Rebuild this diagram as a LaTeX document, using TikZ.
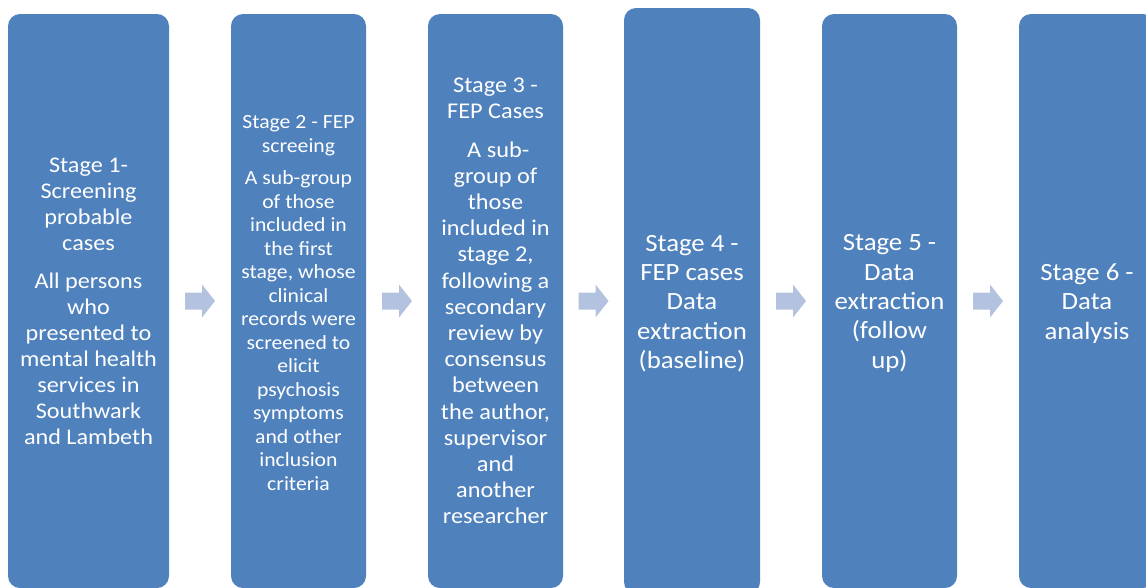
\documentclass[tikz,border=0pt]{standalone}
\usepackage{fontspec}
\setmainfont[FakeStretch=1.08]{Carlito}
\usetikzlibrary{calc}
\definecolor{stageblue}{HTML}{4F81BD}
\definecolor{flowgrey}{HTML}{B3C2DE}

\begin{document}
\begin{tikzpicture}[x=1pt, y=-1pt,
    stagebox/.style={fill=stageblue, rounded corners=12pt, inner sep=0pt,
      text=white, align=center, minimum height=574pt},
    stagetext/.style={text=white, align=center, inner sep=0pt},
    flowarrow/.style={fill=flowgrey}]
  \useasboundingbox (0,0) rectangle (1146,587);
  \clip (0,0) rectangle (1146,587);

  \node[stagebox, minimum width=161pt, font=\fontsize{22.4}{26}\selectfont] (s1) at (88.5,301)
    {Stage 1-\\Screening\\probable\\cases\\[12pt]All persons\\who\\presented to\\mental health\\services in\\Southwark\\and Lambeth};
  \node[stagebox, minimum width=135pt,
    label={[stagetext, yshift=-2pt, font=\fontsize{20.1}{23.5}\selectfont]center:{Stage 2 - FEP\\screeing\\[9pt]A sub-group\\of those\\included in\\the first\\stage, whose\\clinical\\records were\\screened to\\elicit\\psychosis\\symptoms\\and other\\inclusion\\criteria}}]
    (s2) at (298.5,301) {};
  \node[stagebox, minimum width=135pt, font=\fontsize{22.5}{26.2}\selectfont] (s3) at (495.5,301)
    {Stage 3 -\\FEP Cases\\[12pt]\ A sub-\\group of\\those\\included in\\stage 2,\\following a\\secondary\\review by\\consensus\\between\\the author,\\supervisor\\and\\another\\researcher};
  \node[stagebox, minimum width=136pt, minimum height=586pt,
    label={[stagetext, yshift=-2.5pt, font=\fontsize{24.8}{29.3}\selectfont]center:{Stage 4 -\\FEP cases\\Data\\extraction\\(baseline)}}]
    (s4) at (692,301) {};
  \node[stagebox, minimum width=135pt,
    label={[stagetext, yshift=-2.5pt, font=\fontsize{24.8}{29.3}\selectfont]center:{Stage 5 -\\Data\\extraction\\(follow\\up)}}]
    (s5) at (889.5,301) {};
  \node[stagebox, minimum width=136pt,
    label={[stagetext, yshift=-2.5pt, font=\fontsize{24.8}{29.3}\selectfont]center:{Stage 6 -\\Data\\analysis}}]
    (s6) at (1087,301) {};

  % Pfeile
  \foreach \a/\b in {s1/s2, s2/s3, s3/s4, s4/s5, s5/s6}
    \fill[flowarrow] ($(\a.east)!0.5!(\b.west)$) ++(-15,-8.5) -- ++(17,0) -- ++(0,-8)
      -- ++(13,16.5) -- ++(-13,16.5) -- ++(0,-8) -- ++(-17,0) -- cycle;
\end{tikzpicture}
\end{document}
